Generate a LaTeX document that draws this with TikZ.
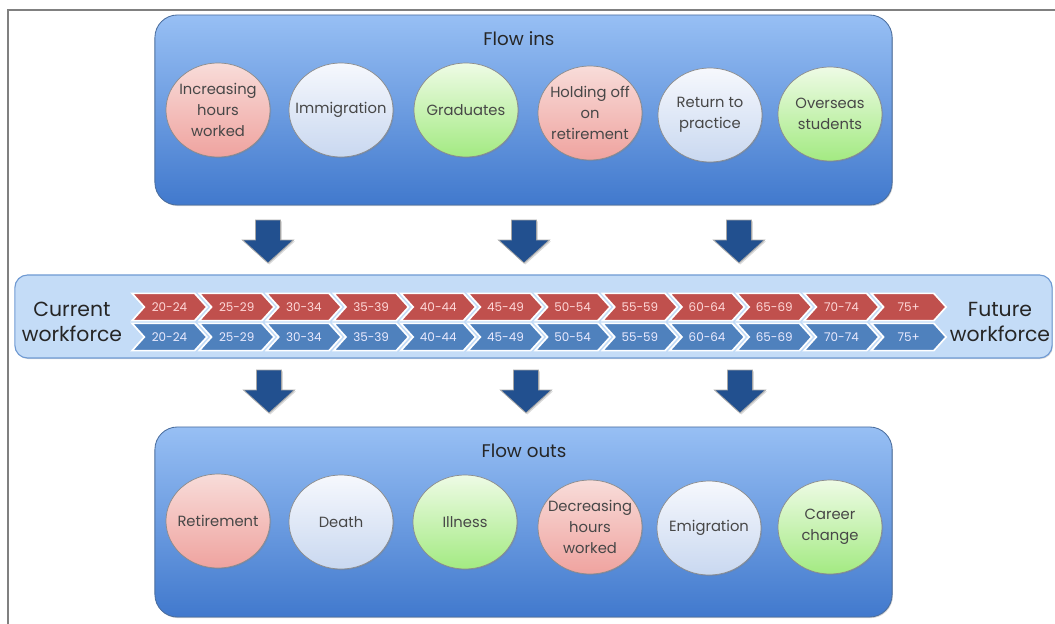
\documentclass[tikz,border=0pt]{standalone}
\usepackage{fontspec}
\setmainfont{Poppins}
\usetikzlibrary{shapes.geometric,shapes.symbols,shadows}

\definecolor{boxtop}{HTML}{97BFF4}
\definecolor{boxbot}{HTML}{4179CD}
\definecolor{boxedge}{HTML}{4B6E9E}
\definecolor{bandfill}{HTML}{C4DCF7}
\definecolor{bandedge}{HTML}{6F9AD3}
\definecolor{pinktop}{HTML}{F8DCD9}
\definecolor{pinkbot}{HTML}{EFA39F}
\definecolor{paletop}{HTML}{F6F8FD}
\definecolor{palebot}{HTML}{C9D8F0}
\definecolor{greentop}{HTML}{EEFBE5}
\definecolor{greenbot}{HTML}{A3EA82}
\definecolor{chevred}{HTML}{C0504D}
\definecolor{chevblue}{HTML}{4F81BD}
\definecolor{arrowblue}{HTML}{22508F}
\definecolor{framegray}{HTML}{808080}

\tikzset{
  panel/.style={rectangle, rounded corners=16pt, draw=boxedge, line width=.6pt,
    top color=boxtop, bottom color=boxbot, minimum width=18.425cm, minimum height=4.75cm,
    drop shadow={shadow xshift=.6pt, shadow yshift=-.8pt, opacity=.35}},
  paneltitle/.style={font=\fontsize{13}{15}\selectfont, text=black!85},
  bubble/.style={ellipse, draw=black!45, line width=.5pt, inner sep=-9pt,
    minimum width=2.6cm, minimum height=2.35cm, align=center,
    font=\fontsize{10.5}{15}\selectfont, text=black!72,
    drop shadow={shadow xshift=.8pt, shadow yshift=-.8pt, opacity=.3}},
  pink/.style={top color=pinktop, bottom color=pinkbot},
  pale/.style={top color=paletop, bottom color=palebot},
  green/.style={top color=greentop, bottom color=greenbot},
  chev/.style={signal, signal from=west, signal to=east, signal pointer angle=96,
    minimum width=1.87cm, minimum height=.68cm, inner sep=0pt, draw=white, line width=1.2pt,
    font=\fontsize{8.5}{10}\selectfont},
  sidelbl/.style={align=center, font=\fontsize{14.5}{17.5}\selectfont, text=black!85},
  pics/downarrow/.style={code={
    \fill[arrowblue, draw=black!35, line width=.6pt,
      drop shadow={shadow xshift=1pt, shadow yshift=-1pt, opacity=.3}]
      (-12.5,0) -- (12.5,0) -- (12.5,20) -- (25.5,20) -- (0,43)
      -- (-25.5,20) -- (-12.5,20) -- cycle;}}
}

\begin{document}
\begin{tikzpicture}[x=0.025cm,y=-0.025cm]
  \useasboundingbox (0,0) rectangle (1055,624);

  % Frame
  \draw[framegray, line width=1.3pt] (1055,10) -- (8,10) -- (8,624);

  % Flow ins
  \node[panel] (flowin) at (523.5,110) {};
  \node[paneltitle] (flowinlbl) at (519,39) {Flow ins};
  \foreach \x/\y/\nm/\c/\txt in {
      218/110/in1/pink/{Increasing\\hours\\worked},
      341/110/in2/pale/{Immigration},
      466/110/in3/green/{Graduates},
      590/113/in4/pink/{Holding off\\on\\retirement},
      710/115/in5/pale/{Return to\\practice},
      830/114/in6/green/{Overseas\\students}}{
    \node[bubble, \c] (\nm) at (\x,\y) {\txt};
  }

  % Arrows into the workforce
  \foreach \x/\nm in {268/ain1, 524/ain2, 739/ain3}{
    \pic (\nm) at (\x,220) {downarrow};
  }

  % Workforce band
  \node[rectangle, rounded corners=9pt, draw=bandedge, line width=.8pt, fill=bandfill,
    minimum width=25.925cm, minimum height=2.075cm,
    drop shadow={shadow xshift=.6pt, shadow yshift=-.8pt, opacity=.3}] (band) at (533.5,316.5) {};
  \node[sidelbl] (current) at (72,322) {Current\\workforce};
  \node[sidelbl] (future) at (1000,322) {Future\\workforce};
  \foreach \lab [count=\i from 0] in {20-24,25-29,30-34,35-39,40-44,45-49,50-54,55-59,60-64,65-69,70-74,75+}{
    \node[chev, fill=chevred, text=red!15] (r\i) at (132+37.5+\i*67.2,307) {\lab};
    \node[chev, fill=chevblue, text=blue!8] (b\i) at (132+37.5+\i*67.2,337) {\lab};
  }

  % Arrows out of the workforce
  \foreach \x/\nm in {269/aout1, 526/aout2, 740/aout3}{
    \pic (\nm) at (\x,370) {downarrow};
  }

  % Flow outs
  \node[panel] (flowout) at (523.5,522) {};
  \node[paneltitle] (flowoutlbl) at (524,451) {Flow outs};
  \foreach \x/\y/\nm/\c/\txt in {
      218/521/out1/pink/{Retirement},
      341/522/out2/pale/{Death},
      465/522/out3/green/{Illness},
      590/527/out4/pink/{Decreasing\\hours\\worked},
      709/528/out5/pale/{Emigration},
      830/527/out6/green/{Career\\change}}{
    \node[bubble, \c] (\nm) at (\x,\y) {\txt};
  }
\end{tikzpicture}
\end{document}
